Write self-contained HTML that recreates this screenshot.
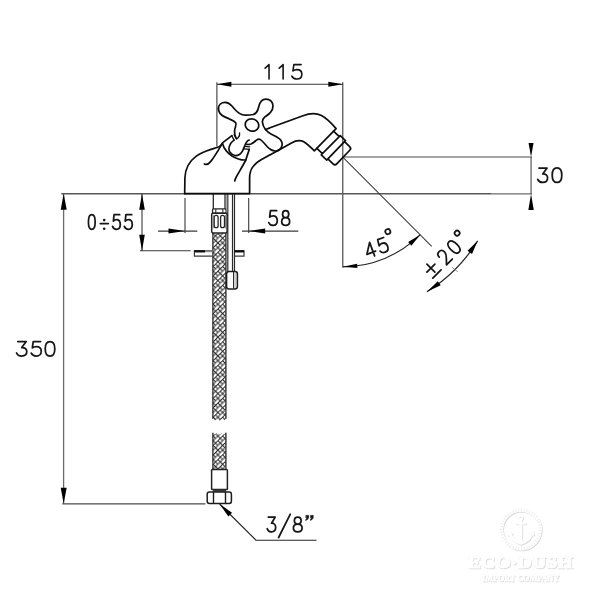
<!DOCTYPE html>
<html><head><meta charset="utf-8"><title>drawing</title>
<style>html,body{margin:0;padding:0;background:#fff;font-family:"Liberation Sans",sans-serif;}svg{display:block}</style></head>
<body>
<svg width="600" height="600" viewBox="0 0 600 600">
<rect width="600" height="600" fill="#ffffff"/>
<defs><filter id="soft" x="0" y="0" width="600" height="600" filterUnits="userSpaceOnUse"><feGaussianBlur stdDeviation="0.33"/></filter></defs>
<g filter="url(#soft)">
<g transform="translate(1.0,1.1)"><g fill="none" stroke="#dadada" stroke-linecap="round" stroke-linejoin="round"><circle cx="520.8" cy="529.3" r="19.3" stroke-width="3.2" stroke-dasharray="2.1 0.7"/><circle cx="520.4" cy="517.6" r="1.9" stroke-width="1.5"/><path d="M520.6,520 L520.6,541.5" stroke-width="3"/><path d="M516,523.3 L525.2,523.3" stroke-width="1.8"/><path d="M509.2,531.5 C510.5,538 514.5,541.6 520.6,543.2 C526.7,541.6 530.7,538 532,531.5" stroke-width="2.8"/><path d="M507.6,534.6 L509.2,530.2 L512.4,533.4 Z M533.6,534.6 L532,530.2 L528.8,533.4 Z" stroke-width="1" fill="#dadada"/></g><text x="520.3" y="568.2" text-anchor="middle" font-family="Liberation Serif, serif" font-weight="bold" font-size="17.2" fill="#dadada" stroke="#dadada" stroke-width="0.5" textLength="105" lengthAdjust="spacingAndGlyphs">ECO·DUSH</text><text x="520.6" y="580.6" text-anchor="middle" font-family="Liberation Serif, serif" font-weight="bold" font-size="8.6" fill="#dadada" stroke="#dadada" stroke-width="0.3" textLength="77" lengthAdjust="spacingAndGlyphs">IMPORT COMPANY</text></g>
<g transform="translate(0.3,0.3)"><g fill="none" stroke="#f1f1f1" stroke-linecap="round" stroke-linejoin="round"><circle cx="520.8" cy="529.3" r="19.3" stroke-width="3.2" stroke-dasharray="2.1 0.7"/><circle cx="520.4" cy="517.6" r="1.9" stroke-width="1.5"/><path d="M520.6,520 L520.6,541.5" stroke-width="3"/><path d="M516,523.3 L525.2,523.3" stroke-width="1.8"/><path d="M509.2,531.5 C510.5,538 514.5,541.6 520.6,543.2 C526.7,541.6 530.7,538 532,531.5" stroke-width="2.8"/><path d="M507.6,534.6 L509.2,530.2 L512.4,533.4 Z M533.6,534.6 L532,530.2 L528.8,533.4 Z" stroke-width="1" fill="#f1f1f1"/></g><text x="520.3" y="568.2" text-anchor="middle" font-family="Liberation Serif, serif" font-weight="bold" font-size="17.2" fill="#f1f1f1" stroke="#f1f1f1" stroke-width="0.5" textLength="105" lengthAdjust="spacingAndGlyphs">ECO·DUSH</text><text x="520.6" y="580.6" text-anchor="middle" font-family="Liberation Serif, serif" font-weight="bold" font-size="8.6" fill="#f1f1f1" stroke="#f1f1f1" stroke-width="0.3" textLength="77" lengthAdjust="spacingAndGlyphs">IMPORT COMPANY</text></g>
<g transform="translate(0,0)"><g fill="none" stroke="#ffffff" stroke-linecap="round" stroke-linejoin="round"><circle cx="520.8" cy="529.3" r="19.3" stroke-width="3.2" stroke-dasharray="2.1 0.7"/><circle cx="520.4" cy="517.6" r="1.9" stroke-width="1.5"/><path d="M520.6,520 L520.6,541.5" stroke-width="3"/><path d="M516,523.3 L525.2,523.3" stroke-width="1.8"/><path d="M509.2,531.5 C510.5,538 514.5,541.6 520.6,543.2 C526.7,541.6 530.7,538 532,531.5" stroke-width="2.8"/><path d="M507.6,534.6 L509.2,530.2 L512.4,533.4 Z M533.6,534.6 L532,530.2 L528.8,533.4 Z" stroke-width="1" fill="#ffffff"/></g><text x="520.3" y="568.2" text-anchor="middle" font-family="Liberation Serif, serif" font-weight="bold" font-size="17.2" fill="#ffffff" stroke="#ffffff" stroke-width="0.5" textLength="105" lengthAdjust="spacingAndGlyphs">ECO·DUSH</text><text x="520.6" y="580.6" text-anchor="middle" font-family="Liberation Serif, serif" font-weight="bold" font-size="8.6" fill="#ffffff" stroke="#ffffff" stroke-width="0.3" textLength="77" lengthAdjust="spacingAndGlyphs">IMPORT COMPANY</text></g>
<circle cx="520.8" cy="529.3" r="19.3" fill="none" stroke="#e9e9e9" stroke-width="2.8" stroke-dasharray="0.8 2.0" transform="rotate(3 520.8 529.3)"/>
<g stroke="#3a3a3a" stroke-width="1.1" fill="none">
<path d="M216.9,82.3 L216.9,146.6 M342.8,82.3 L342.8,267.6 M216.9,84.2 L342.8,84.2"/>
<path d="M61.3,193.8 L491,193.8" stroke="#585858" stroke-width="1.5"/>
<path d="M491,193.9 L532,193.9" stroke="#6e6e6e" stroke-width="1.1"/>
<path d="M342.8,157 L532,157 M531.05,157 L531.05,193.9" stroke="#4a4a4a"/>
<path d="M63.6,193.8 L63.6,503.8" stroke="#6a6a6a" stroke-width="1.3"/><path d="M62.3,503.9 L205.5,503.9" stroke="#4a4a4a" stroke-width="1.2"/>
<path d="M142,193.8 L142,250.7 M140,250.7 L190.7,250.7"/>
<path d="M185,198 L185,233 M248.7,198 L248.7,233 M158,231.1 L197.3,231.1 M242,231.1 L298.3,231.1"/>
</g>
<g stroke="#262626" stroke-width="1.15" fill="none">
<path d="M342.8,157.2 L431.7,246.3" stroke="#3c3c3c" stroke-width="1.05"/>
<path d="M342.80,266.80 A109.6,109.6 0 0 0 420.30,234.70"/>
<path d="M426.90,291.79 A158.7,158.7 0 0 0 477.68,240.83"/>
<path d="M451.82,267.12 L457.82,271.82" stroke="#777" stroke-width="0.8"/>
<path d="M219.6,504 L256,540.2 L316.5,540.2"/>
</g>
<polygon points="216.90,84.20 231.40,81.70 231.40,86.70" fill="#050505"/>
<polygon points="342.80,84.20 328.30,86.70 328.30,81.70" fill="#050505"/>
<polygon points="531.05,157.00 528.55,143.00 533.55,143.00" fill="#050505"/>
<polygon points="531.05,193.90 533.75,209.90 528.35,209.90" fill="#050505"/>
<polygon points="63.70,193.80 66.70,209.80 60.70,209.80" fill="#050505"/>
<polygon points="63.70,503.80 60.70,487.80 66.70,487.80" fill="#050505"/>
<polygon points="142.00,193.80 144.80,209.80 139.20,209.80" fill="#050505"/>
<polygon points="142.00,250.70 139.20,234.70 144.80,234.70" fill="#050505"/>
<polygon points="185.00,231.10 168.50,233.60 168.50,228.60" fill="#050505"/>
<polygon points="248.70,231.10 265.20,228.60 265.20,233.60" fill="#050505"/>
<polygon points="342.80,266.80 357.14,263.72 357.41,268.11" fill="#050505"/>
<polygon points="420.30,234.70 411.31,245.70 408.16,242.07" fill="#050505"/>
<polygon points="426.90,291.79 437.84,281.23 440.68,285.35" fill="#050505"/>
<polygon points="477.68,240.83 472.02,253.91 467.56,250.87" fill="#050505"/>
<polygon points="219.60,504.00 232.05,512.77 228.37,516.45" fill="#050505"/>
<g fill="none" stroke="#161616" stroke-width="1.6" stroke-linecap="round" stroke-linejoin="round"><path d="M265.15 68.14 L269.03 64.65 L269.03 78.95 M279.25 68.14 L283.13 64.65 L283.13 78.95 M301.12 64.65 L293.85 64.65 L292.94 70.95 C294.03 70.05 295.40 69.60 296.94 69.60 C299.85 69.60 301.85 71.49 301.85 74.28 C301.85 77.07 299.85 79.05 296.94 79.05 C294.58 79.05 292.76 78.15 291.85 76.17"/></g>
<g fill="none" stroke="#161616" stroke-width="1.75" stroke-linecap="round" stroke-linejoin="round"><path d="M538.98 168.03 L547.04 168.03 L542.74 173.94 C545.61 173.77 547.58 175.47 547.58 177.98 C547.58 180.58 545.61 182.38 542.74 182.38 C540.32 182.38 538.53 181.39 537.73 179.33 M557.00 167.92 C553.96 167.92 552.20 170.65 552.20 175.20 C552.20 179.75 553.96 182.47 557.00 182.47 C560.05 182.47 561.80 179.75 561.80 175.20 C561.80 170.65 560.05 167.92 557.00 167.92 Z"/></g>
<g fill="none" stroke="#161616" stroke-width="1.75" stroke-linecap="round" stroke-linejoin="round"><path d="M276.65 210.72 L270.44 210.72 L269.66 217.18 C270.59 216.26 271.76 215.80 273.08 215.80 C275.56 215.80 277.28 217.73 277.28 220.59 C277.28 223.45 275.56 225.47 273.08 225.47 C271.06 225.47 269.50 224.55 268.73 222.53 M285.65 217.64 C283.85 217.64 282.58 216.16 282.58 214.18 C282.58 212.20 283.85 210.72 285.65 210.72 C287.45 210.72 288.73 212.20 288.73 214.18 C288.73 216.16 287.45 217.64 285.65 217.64 C283.40 217.64 281.68 219.21 281.68 221.56 C281.68 223.91 283.40 225.47 285.65 225.47 C287.90 225.47 289.63 223.91 289.63 221.56 C289.63 219.21 287.90 217.64 285.65 217.64 Z"/></g>
<g fill="none" stroke="#161616" stroke-width="1.75" stroke-linecap="round" stroke-linejoin="round"><path d="M91.80 214.72 C89.66 214.72 88.42 217.45 88.42 222.00 C88.42 226.55 89.66 229.28 91.80 229.28 C93.94 229.28 95.18 226.55 95.18 222.00 C95.18 217.45 93.94 214.72 91.80 214.72 Z M119.71 214.72 L114.07 214.72 L113.37 221.09 C114.22 220.18 115.27 219.73 116.47 219.73 C118.72 219.73 120.27 221.64 120.27 224.46 C120.27 227.27 118.72 229.28 116.47 229.28 C114.64 229.28 113.23 228.37 112.52 226.37 M131.70 214.72 L125.91 214.72 L125.19 221.09 C126.06 220.18 127.14 219.73 128.37 219.73 C130.69 219.73 132.27 221.64 132.27 224.46 C132.27 227.27 130.69 229.28 128.37 229.28 C126.49 229.28 125.05 228.37 124.32 226.37"/><path d="M100.3,223.6 L108.3,223.6" /><circle cx="104.2" cy="220.1" r="1.3" fill="#161616" stroke="none"/><circle cx="104.2" cy="228.8" r="1.3" fill="#161616" stroke="none"/></g>
<g fill="none" stroke="#161616" stroke-width="1.75" stroke-linecap="round" stroke-linejoin="round"><path d="M17.83 341.53 L26.22 341.53 L21.74 347.53 C24.73 347.35 26.78 349.07 26.78 351.62 C26.78 354.26 24.73 356.08 21.74 356.08 C19.23 356.08 17.36 355.07 16.53 352.98 M40.54 341.53 L33.23 341.53 L32.32 347.89 C33.42 346.98 34.79 346.53 36.34 346.53 C39.27 346.53 41.28 348.44 41.28 351.26 C41.28 354.07 39.27 356.08 36.34 356.08 C33.97 356.08 32.14 355.17 31.23 353.17 M50.00 341.53 C46.96 341.53 45.20 344.25 45.20 348.80 C45.20 353.35 46.96 356.08 50.00 356.08 C53.05 356.08 54.80 353.35 54.80 348.80 C54.80 344.25 53.05 341.53 50.00 341.53 Z"/></g>
<g fill="none" stroke="#161616" stroke-width="1.75" stroke-linecap="round" stroke-linejoin="round"><path d="M268.30 517.12 L275.21 517.12 L271.53 523.21 C273.99 523.02 275.68 524.78 275.68 527.36 C275.68 530.03 273.99 531.88 271.53 531.88 C269.45 531.88 267.92 530.86 267.23 528.74 M297.75 524.04 C295.78 524.04 294.38 522.56 294.38 520.58 C294.38 518.60 295.78 517.12 297.75 517.12 C299.72 517.12 301.12 518.60 301.12 520.58 C301.12 522.56 299.72 524.04 297.75 524.04 C295.28 524.04 293.39 525.61 293.39 527.96 C293.39 530.31 295.28 531.88 297.75 531.88 C300.22 531.88 302.11 530.31 302.11 527.96 C302.11 525.61 300.22 524.04 297.75 524.04 Z"/><path d="M278.6,537.5 L290.3,514.2"/><path d="M306.2,515.4 L308.6,515.4 L308.6,517.2 C308.6,518.8 307.4,519.9 305.4,520.2 C306.4,519.4 306.8,518.6 306.8,517.8 L306.2,517.8 Z M310.8,515.4 L313.2,515.4 L313.2,517.2 C313.2,518.8 312,519.9 310,520.2 C311,519.4 311.4,518.6 311.4,517.8 L310.8,517.8 Z" fill="#161616" stroke="#161616" stroke-width="0.7"/></g>
<g transform="translate(362.37,244.33) rotate(-20.5)" fill="none" stroke="#161616" stroke-width="1.75" stroke-linecap="round" stroke-linejoin="round"><path d="M7.45 15.08 L7.45 0.72 L0.72 11.04 L9.97 11.04 M22.34 1.02 L15.97 1.02 L15.18 7.30 C16.13 6.41 17.33 5.96 18.68 5.96 C21.23 5.96 22.98 7.84 22.98 10.62 C22.98 13.40 21.23 15.38 18.68 15.38 C16.61 15.38 15.02 14.48 14.22 12.51"/><circle cx="28.3" cy="-3.0" r="2.55"/></g>
<g transform="translate(422.2,267.5) rotate(-45)" fill="none" stroke="#161616" stroke-width="1.75" stroke-linecap="round" stroke-linejoin="round"><path d="M19.38 4.73 C19.38 2.27 20.90 0.72 23.10 0.72 C25.30 0.72 26.82 2.27 26.82 4.73 C26.82 6.91 25.76 8.36 23.78 10.36 L19.08 15.28 L27.28 15.28 M36.90 0.72 C34.34 0.72 32.86 3.45 32.86 8.00 C32.86 12.55 34.34 15.28 36.90 15.28 C39.47 15.28 40.94 12.55 40.94 8.00 C40.94 3.45 39.47 0.72 36.90 0.72 Z"/><path d="M0,6.6 L11.4,6.6 M5.7,0.95 L5.7,12.25 M0,15 L11.6,15"/><circle cx="49" cy="0.4" r="2.5"/></g>
<defs><pattern id="br" width="6.660" height="13.320" patternUnits="userSpaceOnUse" patternTransform="translate(213.2,233.5) rotate(-45)"><rect width="6.660" height="13.320" fill="#303030"/><g fill="#fdfdfd"><rect x="0.515" y="0.515" width="5.630" height="2.3" rx="0.7"/><rect x="0.515" y="3.845" width="2.3" height="2.3" rx="0.5"/><rect x="3.845" y="3.845" width="2.3" height="2.3" rx="0.5"/><rect x="-2.815" y="7.175" width="5.630" height="2.3" rx="0.7"/><rect x="3.845" y="7.175" width="5.630" height="2.3" rx="0.7"/><rect x="0.515" y="10.505" width="2.3" height="2.3" rx="0.5"/><rect x="3.845" y="10.505" width="2.3" height="2.3" rx="0.5"/></g></pattern></defs>
<g fill="none" stroke="#222" stroke-width="1.2" stroke-linejoin="round">
<path d="M212.5,232.5 L226.2,232.5 L226.2,418.5 L224.2,420.3 L221.8,419 L219.4,420.5 L217,419.2 L215,420.6 L212.5,418.5 Z" fill="url(#br)" stroke="none"/>
<path d="M212.5,432.5 L214.6,434.4 L217,433 L219.3,434.4 L221.8,433 L224,434.4 L226.2,432.5 L226.2,469.5 L212.5,469.5 Z" fill="url(#br)" stroke="none"/>
<path d="M212.9,232.5 L212.9,418.8 M225.9,232.5 L225.9,418.8 M212.9,432.8 L212.9,469.5 M225.9,432.8 L225.9,469.5" stroke="#333" stroke-width="1.3"/>
<path d="M213.3,194 L213.3,209 M225,194 L225,209" stroke="#2c2c2c" stroke-width="1.3"/>
<rect x="212.5" y="208.9" width="13.6" height="4.3" rx="1.2" fill="#fff" stroke="#262626" stroke-width="1.3"/>
<path d="M215.8,209 L215.8,213 M222.8,209 L222.8,213" stroke="#333" stroke-width="1.1"/>
<rect x="211.7" y="213.3" width="15.4" height="19.6" rx="1.3" fill="#fff" stroke="#222" stroke-width="1.5"/>
<path d="M213.3,215 L213.3,228.4 M225.5,215 L225.5,228.4" stroke="#8a8a8a" stroke-width="0.9"/>
<rect x="214.2" y="215.4" width="3.9" height="12.3" rx="1.95" stroke="#262626" stroke-width="1.3"/>
<rect x="220.6" y="215.4" width="3.9" height="12.3" rx="1.95" stroke="#262626" stroke-width="1.3"/>
<path d="M227.8,194 L227.8,272 M232.5,194 L232.5,272 M234.5,194 L234.5,272" stroke="#2a2a2a" stroke-width="1.2"/>
<path d="M226.7,194 L226.7,212" stroke="#8a8a8a" stroke-width="0.9"/>
<path d="M233.5,194 L233.5,272" stroke="#cfcfcf" stroke-width="1"/>
<rect x="226.6" y="271.6" width="10.8" height="17.4" rx="2.4" fill="#fff" stroke="#1c1c1c" stroke-width="1.5"/>
<path d="M233.6,272 L233.6,288.6" stroke="#2c2c2c" stroke-width="1.2"/>
<path d="M235.9,273 L235.9,287.6" stroke="#999" stroke-width="0.8"/>
<path d="M212.5,256.2 L194.4,256.2 L194.4,250.6 L212.5,250.6 M234.8,250.6 L244,250.6 L244,256.2 L234.8,256.2" stroke="#3a3a3a" stroke-width="1.2"/>
<path d="M194.4,251.4 L205,251.4 M234.8,251.4 L244,251.4" stroke="#111" stroke-width="2.4"/>
<path d="M205,251.2 L212.5,251.2" stroke="#888" stroke-width="2"/>
<rect x="211.6" y="469.6" width="15.8" height="20" rx="0.8" fill="#fff" stroke="#222" stroke-width="1.5"/>
<path d="M213,490.7 L226,490.7" stroke="#3a3a3a" stroke-width="2.2"/>
<rect x="207.2" y="492" width="24.2" height="11.4" rx="2.2" fill="#fff" stroke="#1c1c1c" stroke-width="1.5"/>
<path d="M213.5,492 L213.5,503.4 M225.5,492 L225.5,503.4" stroke="#1c1c1c" stroke-width="1.4"/>
</g>
<g fill="none" stroke="#0d0d0d" stroke-width="1.7" stroke-linecap="round" stroke-linejoin="round">
<path d="M184.7,193.6 L184.9,178 C185.2,169 189,161.5 196,156.4 C200.5,153 206,151 211,149.4 C214.5,148.3 217,147.6 219.2,146.7 C220.6,145.8 221.6,144.5 222.5,142.9 L231.9,135.6"/>
<path d="M184.7,193.6 L249.6,193.6 L249.6,178 C249.6,168.5 254,163.5 262,159.3 L291.5,143 C296,140.4 300,139.6 304.2,142 C308,144.4 311,147.8 314.3,150.8 L336.1,128.6 C331,122.8 327,118.5 321.5,115.6 C315.5,112.5 309.5,113.3 303,115.7 L265.5,129.5"/>
<path d="M221.6,144.6 C217,152.5 213.5,158 210.8,161.4 C208.6,164.2 206.2,165 204.4,164"/>
<path d="M245.8,160 C242.5,166.5 238,173.5 236,177.5 C235.2,179 234.9,180 234.7,181"/>
<path d="M222.5,143.5 C224,149 227.5,153 232,156 C236.5,158.8 241.5,160.2 245.8,160 C246.8,156.5 248.3,152.5 249.3,149.2"/>
<path d="M218.4,108.7 C218.4,104.8 221.3,102.3 225.2,102.3 C228.3,102.3 230.4,104.2 232.2,106.3 C234.7,109.2 236.8,111.7 239.4,113.4 C241.4,114.7 243.2,115.2 245.5,115.2 C248.5,115.2 250.8,115.2 253.2,114.5 C256,113.6 257.2,111.6 257.9,109.6 C258.8,107 259,104.8 260.2,102.8 C261.5,100.4 263.6,99.1 266.2,99.1 C270.2,99.1 273,102.2 273,106 C273,108.6 272,110.6 270.6,112.3 C268.8,114.4 266.4,115.6 264.6,117.2 C263,118.7 262.2,120.2 262.4,122.2 C262.7,125 263.8,127.5 265.5,129.5 C267.2,131.6 269.5,133.4 272.5,134.8 C276,136.4 279,137.6 280.8,140.2 C282.5,142.7 282.4,146 280.8,148.2 C279.4,150.2 277.2,151.2 275,151 C271.5,150.7 269,148.6 266.8,146.2 C264.5,143.7 262.8,141.2 260.4,139.6 C259.2,138.8 257.8,139.2 256.5,140.2 C254.5,141.8 253,143.2 251,144 C249.6,144.5 248,144.6 246.6,144.4"/>
<path d="M218.4,108.7 C218.6,111.6 220,113.8 221.9,115.2 C224.2,116.9 226.6,117.7 228.9,118.7 C231.6,119.9 234.2,120.9 235.6,122.6 C236.8,124.2 235.6,126.2 235,128.3 C234.5,130.2 234.4,132 234.7,133.8 C235,135.6 235.6,137.3 236.4,138.7"/>
<path d="M234.1,140.1 C232.4,141.2 231.4,142.3 230.6,143.6 C229.4,145.8 228.8,147.2 228.9,148.6 C229,150.2 229.4,151.6 230.2,152.6 C231.4,154.2 233,155.2 235,155.5 C236.6,155.7 238,155.3 239.3,154.5 C240.8,153.5 241.8,152.2 242.6,150.8 C243.5,149.2 244,147.4 244.7,145.8 C245.3,144.3 245.9,142.8 246.8,141.7 C247.5,140.8 248.3,140.3 249.2,140"/>
<path d="M239.6,132.9 C239.9,134.7 239.4,136.3 238.3,137.5 C237.8,138.1 237.3,138.5 236.7,138.8" stroke-width="1.3"/>
<path d="M231.8,135.7 L234.1,140.1 M234.1,134.7 L236.4,138.8" stroke-width="1.3"/>
<path d="M244.6,146.3 L249.7,146.8 M244.1,148.8 L249.2,149.3" stroke-width="1.3"/>
<ellipse cx="252" cy="125" rx="6.9" ry="6.1" transform="rotate(20 252 125)"/>
<g transform="translate(325.2,139.7) rotate(43.8)">
<path d="M0,-12 L8,-12 L8,-13.4 L15.2,-13.4 L15.2,-12 L22.4,-12 C24.1,-12 25,-11.1 25,-9.4 L25,9.4 C25,11.1 24.1,12 22.4,12 L15.2,12 L15.2,13.6 L7.6,13.6 L7.6,12 L0,12 M8,-12 L7.6,12 M15.2,-12 L15.2,12"/>
</g>
</g>
</g>
</svg>
</body></html>
